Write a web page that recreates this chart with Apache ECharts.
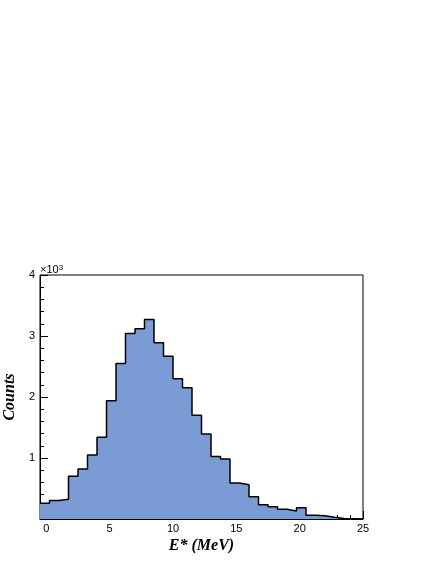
<!DOCTYPE html>
<html>
<head>
<meta charset="utf-8">
<script src="https://cdn.jsdelivr.net/npm/echarts@6/dist/echarts.min.js"></script>
<style>
  html, body { margin: 0; padding: 0; background: #fff; }
  #chart { width: 436px; height: 564px; }
</style>
</head>
<body>
<div id="chart"></div>
<script>
// histogram: 34 bins of 0.75 MeV from -0.5 to 25
const binStart = -0.5
const binWidth = 0.75
const counts = [
  260, 305, 325, 700, 820, 1050, 1340, 1940, 2550, 3040, 3120, 3270,
  2890, 2670, 2300, 2150, 1700, 1395, 1025, 985, 590, 560, 365, 235,
  200, 160, 130, 185, 60, 55, 30, 10, 5, 0
]
const xMajorTicks = [0, 5, 10, 15, 20, 25]
const xMinorTicks = [1, 2, 3, 4, 6, 7, 8, 9, 11, 12, 13, 14, 16, 17, 18, 19, 21, 22, 23, 24]

// step points at bin edges (last edge repeats last bin)
const stepData = counts.map((c, i) => [binStart + i * binWidth, c])
stepData.push([binStart + counts.length * binWidth, counts[counts.length - 1]])

const labelFont = { fontFamily: 'Liberation Sans, Arial, sans-serif', fontSize: 11, color: '#000' }
const titleFont = { fontFamily: 'Liberation Serif, Times New Roman, serif', fontSize: 16, fontWeight: 'bold', fontStyle: 'italic', color: '#000' }

const chart = echarts.init(document.getElementById('chart'))
chart.setOption({
  animation: false,
  grid: {
    left: 40, right: 73, top: 275, bottom: 45,
    outerBoundsMode: 'none', containLabel: false,
    show: true, borderColor: '#000', borderWidth: 1, backgroundColor: 'transparent'
  },
  xAxis: [
    {
      type: 'value', min: -0.5, max: 25,
      name: 'E* (MeV)', nameLocation: 'middle', nameGap: 19, nameTextStyle: titleFont,
      axisLine: { show: true, onZero: false, lineStyle: { color: '#000' } },
      axisTick: { show: true, inside: true, length: 8, customValues: xMajorTicks, lineStyle: { color: '#000' } },
      axisLabel: { ...labelFont, margin: 4, customValues: xMajorTicks },
      splitLine: { show: false }
    },
    {
      type: 'value', min: -0.5, max: 25, position: 'bottom',
      axisLine: { show: false, onZero: false },
      axisTick: { show: true, inside: true, length: 4, customValues: xMinorTicks, lineStyle: { color: '#000' } },
      axisLabel: { show: false },
      splitLine: { show: false }
    }
  ],
  yAxis: {
    type: 'value', min: 0, max: 4000, interval: 1000,
    name: 'Counts', nameLocation: 'middle', nameGap: 21, nameTextStyle: titleFont,
    axisLine: { show: true, onZero: false, lineStyle: { color: '#000' } },
    axisTick: { show: true, inside: true, length: 8, lineStyle: { color: '#000' } },
    minorTick: { show: true, splitNumber: 5, length: 4, lineStyle: { color: '#000' } },
    axisLabel: { ...labelFont, margin: 5, showMinLabel: false, formatter: v => String(v / 1000) },
    splitLine: { show: false }
  },
  graphic: [{
    type: 'text', left: 40, top: 264,
    style: {
      text: '×10{s|3}',
      rich: { s: { fontSize: 8, verticalAlign: 'top', lineHeight: 8, fontFamily: 'Liberation Sans, Arial, sans-serif' } },
      fontFamily: 'Liberation Sans, Arial, sans-serif', fontSize: 11, fill: '#000'
    }
  }],
  series: [{
    type: 'line', step: 'end', data: stepData,
    symbol: 'none', clip: true,
    lineStyle: { color: '#000', width: 1.5 },
    areaStyle: { color: '#7a9bd3', opacity: 1 }
  }]
})
</script>
</body>
</html>
